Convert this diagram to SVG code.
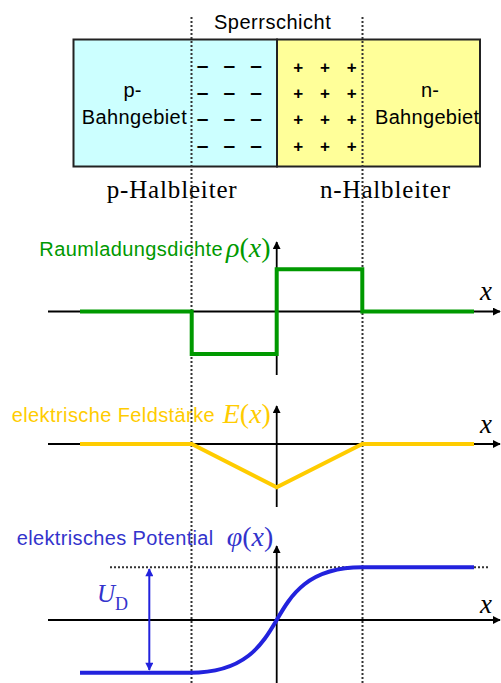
<svg xmlns="http://www.w3.org/2000/svg" width="501" height="683" viewBox="0 0 501 683">
<style>
.sans{font-family:"Liberation Sans",Arial,sans-serif}
.serif{font-family:"Liberation Serif","Times New Roman",serif}
.math{font-family:"Liberation Serif","Times New Roman",serif;font-style:italic}
.up{font-style:normal}
.axis{stroke:#000;stroke-width:1.8;fill:none}
.dot{stroke:#333;stroke-width:2;stroke-dasharray:2 2;fill:none}
.mn{font-family:"Liberation Sans",Arial,sans-serif;font-size:21px;font-weight:bold}
.pl{font-family:"Liberation Sans",Arial,sans-serif;font-size:17px;font-weight:bold}
</style>
<defs>
<marker id="ah" viewBox="0 0 10 10" refX="9" refY="5" markerWidth="8" markerHeight="8" markerUnits="userSpaceOnUse" orient="auto"><path d="M0,0 L10,5 L0,10 Z" fill="#000"/></marker>
<marker id="ahb" viewBox="0 0 10 10" refX="9" refY="5" markerWidth="9" markerHeight="8" markerUnits="userSpaceOnUse" orient="auto-start-reverse"><path d="M0,0 L10,5 L0,10 Z" fill="#2222DD"/></marker>
</defs>
<rect width="501" height="683" fill="#fff"/>

<g id="p-region">
<rect x="73.5" y="39.5" width="203.5" height="127" fill="#CCFFFF" stroke="#222" stroke-width="2"/>
<text class="sans" font-size="20" text-anchor="middle" x="132.5" y="96.5">p-</text>
<text class="sans" font-size="20" x="81.7" y="124" textLength="105">Bahngebiet</text>
<text class="mn" text-anchor="middle" x="202.7 229.3 256" y="72">–––</text>
<text class="mn" text-anchor="middle" x="202.7 229.3 256" y="98.7">–––</text>
<text class="mn" text-anchor="middle" x="202.7 229.3 256" y="125">–––</text>
<text class="mn" text-anchor="middle" x="202.7 229.3 256" y="151.7">–––</text>
</g>

<g id="n-region">
<rect x="277" y="39.5" width="203" height="127" fill="#FFFF99" stroke="#222" stroke-width="2"/>
<text class="sans" font-size="20" text-anchor="middle" x="430" y="96.5">n-</text>
<text class="sans" font-size="20" x="375" y="124" textLength="104">Bahngebiet</text>
<text class="pl" text-anchor="middle" x="298.3 325 351.7" y="72.7">+++</text>
<text class="pl" text-anchor="middle" x="298.3 325 351.7" y="99.3">+++</text>
<text class="pl" text-anchor="middle" x="298.3 325 351.7" y="125.3">+++</text>
<text class="pl" text-anchor="middle" x="298.3 325 351.7" y="152">+++</text>
</g>

<g id="labels-top">
<text class="sans" font-size="20" x="214" y="29.3" textLength="116.7">Sperrschicht</text>
<text class="serif" font-size="25" x="106.7" y="198" textLength="130">p-Halbleiter</text>
<text class="serif" font-size="25" x="320" y="198" textLength="130">n-Halbleiter</text>
</g>

<g id="guides">
<line class="dot" x1="191.5" y1="17" x2="191.5" y2="683"/>
<line class="dot" x1="362.5" y1="17" x2="362.5" y2="683"/>
<line class="dot" x1="110" y1="567.3" x2="488" y2="567.3"/>
</g>

<g id="connectors">
<line class="axis" x1="48" y1="311.5" x2="500" y2="311.5" marker-end="url(#ah)"/>
<line class="axis" x1="276.7" y1="375" x2="276.7" y2="242" marker-end="url(#ah)"/>
<line class="axis" x1="48" y1="444" x2="500" y2="444" marker-end="url(#ah)"/>
<line class="axis" x1="276.7" y1="507" x2="276.7" y2="406" marker-end="url(#ah)"/>
<line class="axis" x1="48" y1="620" x2="500" y2="620" marker-end="url(#ah)"/>
<line class="axis" x1="276.7" y1="683" x2="276.7" y2="546" marker-end="url(#ah)"/>
<line x1="149.3" y1="569" x2="149.3" y2="670" stroke="#2222DD" stroke-width="2" marker-start="url(#ahb)" marker-end="url(#ahb)"/>
</g>

<g id="rho-chart">
<path d="M80,311.5 H191.7 V354 H276.7 V269.3 H362.3 V311.5 H474" fill="none" stroke="#009900" stroke-width="4"/>
<text class="sans" font-size="20" fill="#009900" x="39.3" y="256" textLength="183.4">Raumladungsdichte</text>
<text class="math" font-size="28" fill="#009900" x="226" y="257">ρ<tspan class="up">(</tspan>x<tspan class="up">)</tspan></text>
<text class="math" font-size="27" x="480" y="300">x</text>
</g>

<g id="e-chart">
<path d="M80,444 H191.7 L276.7,487.3 L362.3,444 H474" fill="none" stroke="#FFCC00" stroke-width="4"/>
<text class="sans" font-size="20" fill="#FFCC00" x="11.7" y="421.7" textLength="203">elektrische Feldstärke</text>
<text class="math" font-size="28" fill="#FFCC00" x="222.7" y="422.5">E<tspan class="up">(</tspan>x<tspan class="up">)</tspan></text>
<text class="math" font-size="27" x="480" y="433.3">x</text>
</g>

<g id="phi-chart">
<path d="M80,672.8 H190 C245,672.8 262,645 276.7,620 C291,595 308,567.3 362,567.3 H474" fill="none" stroke="#2222DD" stroke-width="4"/>
<text class="sans" font-size="20" fill="#3333CC" x="16.7" y="545" textLength="196.6">elektrisches Potential</text>
<text class="math" font-size="28" fill="#3333CC" x="226.7" y="545.5">φ<tspan class="up">(</tspan>x<tspan class="up">)</tspan></text>
<text class="math" font-size="27" x="480" y="613.3">x</text>
<text class="math" font-size="25" fill="#3333CC" x="97" y="601.7">U<tspan class="up" font-size="18" dy="8">D</tspan></text>
</g>
</svg>
